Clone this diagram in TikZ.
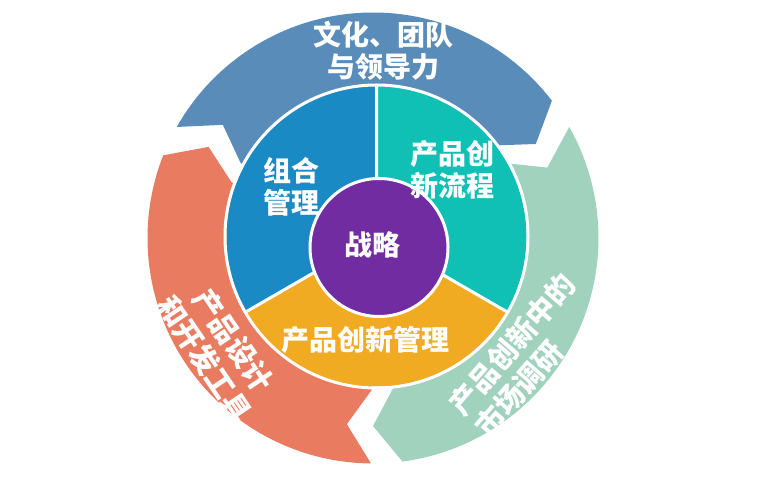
\documentclass[tikz,border=0pt]{standalone}
\usepackage{fontspec}
\setmainfont{Noto Sans CJK SC}
\definecolor{obl}{HTML}{5A8CB9}
\definecolor{oor}{HTML}{E97C60}
\definecolor{ogr}{HTML}{A1D2BE}
\definecolor{mbl}{HTML}{1A8AC4}
\definecolor{mtl}{HTML}{10C0B5}
\definecolor{mam}{HTML}{F0AB22}
\definecolor{cpu}{HTML}{702CA0}
\newcommand\chevband[3]{%
  \fill[#3] (#1:225.5) arc[start angle=#1,end angle=#2,radius=225.5]
    -- ({#2-7.5}:188) -- (#2:152) -- (#2:140)
    arc[start angle=#2,end angle=#1,radius=140]
    -- (#1:152) -- ({#1-7.5}:188) -- cycle;}
\begin{document}
\begin{tikzpicture}[x=1pt,y=1pt,
  lbl/.style={text=white,font=\bfseries\fontsize{28}{32}\selectfont,align=center,inner sep=0pt},
  rlbl/.style={lbl,font=\bfseries\fontsize{29}{34.5}\selectfont},
  sepline/.style={white,line width=3pt}]
\useasboundingbox (0,0) rectangle (757,481);
% outer chevron ring
\begin{scope}[shift={(373,243)}]
  \chevband{150.5}{37.5}{obl}
  \chevband{29.5}{-82.5}{ogr}
  \chevband{269.5}{158.5}{oor}
\end{scope}
% middle ring
\begin{scope}[shift={(376.5,244.5)}]
  \fill[mbl] (0,0) -- (90:150) arc[start angle=90,end angle=210,radius=150] -- cycle;
  \fill[mam] (0,0) -- (210:150) arc[start angle=210,end angle=330,radius=150] -- cycle;
  \fill[mtl] (0,0) -- (330:150) arc[start angle=330,end angle=450,radius=150] -- cycle;
  \draw[sepline] (0,0) circle[radius=151.5];
  \draw[sepline] (0,0) -- (90:150) (0,0) -- (210:150) (0,0) -- (330:150);
\end{scope}
% core
\node[circle,fill=cpu,draw=white,line width=3pt,minimum size=138pt,inner sep=0pt] (core) at (379,233.5) {};
% labels
\node[lbl] (t1) at (383,430) {文化、团队\\与领导力};
\node[lbl] (t2) at (291.5,294) {组合\\管理};
\node[lbl] (t3) at (452.5,311.5) {产品创\\新流程};
\node[lbl] (t4) at (372.5,236) {战略};
\node[lbl] (t5) at (365.5,141.5) {产品创新管理};
\node[rlbl,rotate=-56] (t6) at (219,131) {产品设计\\和开发工具};
\node[rlbl,rotate=49,align=left] (t7) at (525,125.4) {产品创新中的\\市场调研};
\end{tikzpicture}
\end{document}
